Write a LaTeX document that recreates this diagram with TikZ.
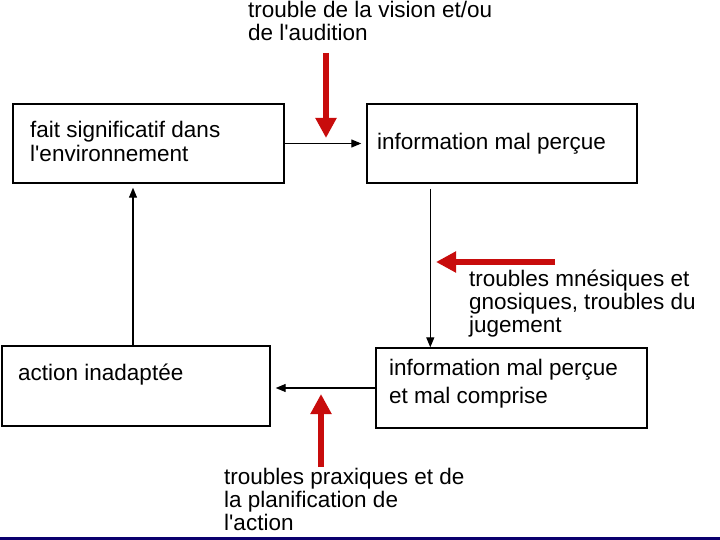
\documentclass[tikz,border=0pt]{standalone}
\usepackage{fontspec}
\setmainfont{Liberation Sans}
\usetikzlibrary{arrows.meta,calc}
\definecolor{redarrow}{RGB}{200,12,12}
\definecolor{navyline}{RGB}{10,0,110}
\newcommand{\apos}{\textquotesingle}
\begin{document}
\begin{tikzpicture}[x=1pt,y=-1pt,
  box/.style={draw=black,line width=1.4pt,minimum width=#1,inner sep=0pt},
  lbl/.style={font=\fontsize{22.5}{23}\selectfont,align=left,anchor=base west,inner sep=0pt},
  flow/.style={line width=1.2pt,-{Triangle[length=10pt,width=8pt]}},
  cause/.style={redarrow,line width=6pt,-{Triangle[length=20pt,width=20pt]}}]
\useasboundingbox (0,0) rectangle (720,540);
\fill[white] (0,0) rectangle (720,540);
% boxes
\node[box=271pt,minimum height=79pt] (A) at (148.5,143.5) {};
\node[box=270pt,minimum height=79pt] (B) at (502,143.5) {};
\node[box=271pt,minimum height=80pt] (C) at (511.5,388) {};
\node[box=268pt,minimum height=80pt] (D) at (136,386) {};
% box texts (anchor = baseline of last line)
\node[lbl,font=\fontsize{22.5}{24}\selectfont] (tA) at (30,162) {fait significatif dans\\l\apos environnement};
\node[lbl] (tB) at (377,150) {information mal perçue};
\node[lbl,font=\fontsize{22.5}{28}\selectfont] (tC) at (389,403) {information mal perçue\\et mal comprise};
\node[lbl] (tD) at (18,380) {action inadaptée};
% cause labels
\node[lbl] (t1) at (248,41) {trouble de la vision et/ou\\de l\apos audition};
\node[lbl] (t2) at (469,332) {troubles mnésiques et\\gnosiques, troubles du\\jugement};
\node[lbl] (t3) at (224,530) {troubles praxiques et de\\la planification de\\l\apos action};
% flow connectors
\draw[flow,shorten >=5pt] (A.east) -- (B.west);
\draw[flow] ([xshift=64pt,yshift=-5pt]B.south west) -- ([xshift=64pt]B.south west |- C.north);
\draw[flow,shorten >=5pt] (C.west) -- (C.west -| D.east);
\draw[flow] ([xshift=-3pt]D.north) -- ([xshift=-3pt,yshift=-4pt]D.north |- A.south);
% red cause arrows
\coordinate (r1s) at (326,53);
\coordinate (r1e) at (326,138);
\coordinate (r2s) at (555,262);
\coordinate (r2e) at (436,262);
\coordinate (r3s) at (321,467);
\coordinate (r3e) at (321,394);
\draw[cause] (r1s) -- (r1e);
\draw[cause] (r2s) -- (r2e);
\draw[cause] (r3s) -- (r3e);
% bottom rule
\fill[navyline] (0,537) rectangle (720,540);
\end{tikzpicture}
\end{document}
